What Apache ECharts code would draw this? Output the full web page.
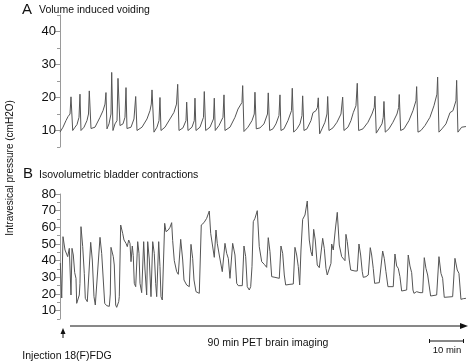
<!DOCTYPE html>
<html>
<head>
<meta charset="utf-8">
<script src="https://cdn.jsdelivr.net/npm/echarts@6/dist/echarts.min.js"></script>
<style>
  html, body { margin: 0; padding: 0; background: #fff; }
  #chart { width: 472px; height: 363px; }
</style>
</head>
<body>
<div id="chart"></div>
<script>
// A: volume induced voiding (time in min, pressure in cmH2O)
const voidingTime = [
  0, 0.86, 1.71, 2.29, 2.86, 3.14, 3.63, 4.29, 4.86, 5.43, 5.71, 6.0, 6.86, 7.71, 8.14, 8.37, 8.86,
  10.0, 11.43, 12.29, 12.86, 13.14, 13.43, 14.0, 14.57, 14.77, 15.14, 15.71, 16.29, 16.57, 17.14,
  18.0, 18.57, 18.86, 19.14, 20.29, 21.14, 21.63, 22.0, 23.43, 24.86, 25.71, 26.09, 26.29, 26.86,
  27.71, 28.29, 28.57, 28.86, 30.0, 31.43, 32.57, 33.29, 33.63, 34.0, 35.14, 36.0, 36.2, 36.57,
  37.71, 38.37, 38.57, 38.86, 40.0, 41.0, 41.23, 41.63, 42.86, 43.86, 44.09, 44.37, 45.43, 46.57,
  46.86, 47.14, 48.57, 50.0, 50.86, 52.0, 52.2, 52.57, 53.71, 54.86, 55.51, 55.71, 56.09, 57.14,
  58.29, 59.29, 59.51, 59.91, 60.86, 61.71, 62.57, 62.86, 63.14, 64.0, 65.14, 66.14, 66.37, 66.77,
  67.71, 68.57, 69.14, 69.34, 69.71, 70.57, 71.71, 72.29, 73.14, 73.57, 73.8, 74.2, 74.86, 75.71,
  76.29, 76.49, 76.86, 78.0, 79.14, 80.29, 80.77, 81.14, 82.29, 83.14, 83.8, 84.29, 84.57, 84.94,
  85.34, 86.57, 88.0, 89.14, 89.8, 90.0, 90.37, 91.14, 92.0, 92.37, 92.57, 92.94, 94.0, 95.14,
  96.29, 96.77, 96.94, 97.34, 98.29, 99.71, 100.86, 101.71, 101.91, 102.29, 103.14, 104.29,
  105.71, 106.86, 107.71, 107.91, 108.29, 109.14, 110.29, 111.43, 112.29, 113.14, 113.34, 113.71,
  114.77, 115.14, 116.0
];
const voidingPressure = [
  9.5, 11, 13, 14.2, 15, 20.2, 10, 11, 11.8, 14, 21, 10, 11, 13, 15, 22, 10.6,
  11, 14, 16, 18, 21.5, 10.5, 12, 15, 27.6, 10, 12, 13, 25.8, 11.5,
  12, 14, 23, 10.6, 11, 13.5, 20.3, 10, 11, 13.5, 16, 18, 22.3, 9.5,
  11, 13, 20, 10, 11, 13.5, 15.5, 18, 24, 10, 10.8, 13, 18.6, 10,
  11, 13, 19.8, 10, 11, 14, 21.8, 10, 11, 13.5, 19.8, 10, 11.5, 14,
  20.8, 10, 11, 14, 16.5, 18.5, 23.6, 9.7, 11, 13, 15, 21.6, 10.5, 10.8,
  12, 15, 21.4, 10, 10.5, 12, 14.5, 20.8, 10, 10.5, 13, 16, 22.8, 9.5,
  10.5, 12, 14.5, 20.5, 10, 10.5, 13, 15.4, 16, 17, 19.9, 9, 10.5, 12.5,
  15, 20.3, 10, 10.8, 12.5, 15, 20.1, 10, 11, 13, 15.4, 16, 17.5, 24.3,
  10, 10.5, 12.5, 15, 17, 20.4, 9.2, 10.5, 12, 14, 18.8, 9.5, 10.5, 12.5,
  15, 17, 20.9, 10, 10.5, 13, 16, 19, 23.3, 9.5, 10, 11.5,
  14, 17.5, 21, 26.2, 9.5, 10.5, 12, 15.4, 16, 19, 25.2, 9.5,
  11, 10.8, 11.2
];

// B: isovolumetric bladder contractions
const isoTime = [
  0.09, 0.49, 0.86, 1.43, 1.91, 2.2, 2.66, 2.94, 3.14, 3.43, 3.8, 4.2, 4.57, 4.77, 5.51, 5.71,
  6.0, 6.49, 6.94, 7.23, 7.8, 8.37, 8.77, 9.23, 9.71, 10.09, 10.49, 11.43, 11.91, 12.37, 12.77,
  13.34, 14.09, 14.37, 14.57, 15.23, 15.51, 15.91, 16.2, 16.77, 16.94, 17.34, 17.91, 18.29, 18.86,
  19.23, 19.63, 20.0, 20.29, 20.66, 20.94, 21.23, 21.63, 21.91, 22.2, 22.57, 22.86, 23.34, 23.63,
  23.91, 24.29, 24.77, 25.06, 25.51, 26.0, 26.49, 26.94, 27.34, 27.63, 28.2, 28.57, 28.86, 29.23,
  29.91, 30.29, 30.94, 31.43, 31.91, 32.2, 32.66, 33.34, 33.8, 34.09, 34.49, 35.06, 35.43, 36.2,
  36.94, 37.43, 37.91, 38.29, 38.86, 39.8, 40.37, 41.14, 41.91, 42.66, 43.06, 43.51, 44.09, 44.57,
  44.94, 45.51, 45.91, 46.37, 46.86, 47.14, 47.63, 48.09, 48.57, 49.06, 49.34, 50.0, 50.49, 50.94,
  52.09, 52.57, 53.06, 53.51, 54.09, 54.49, 54.86, 55.23, 55.71, 56.37, 56.94, 57.63, 58.37, 59.06,
  59.51, 60.0, 60.49, 61.43, 62.66, 63.14, 63.63, 64.09, 64.49, 65.71, 66.66, 67.14, 67.63, 68.09,
  68.49, 68.86, 69.34, 70.0, 70.66, 71.23, 71.71, 72.09, 72.49, 72.94, 73.51, 74.09, 74.49, 75.06,
  75.51, 76.0, 76.37, 76.94, 77.43, 77.63, 78.09, 78.66, 79.23, 79.8, 80.49, 81.43, 81.71, 82.09,
  82.66, 83.06, 84.29, 84.94, 85.43, 85.91, 86.37, 86.66, 87.43, 88.09, 88.66, 89.06, 89.51, 89.91,
  91.23, 91.71, 92.2, 92.66, 93.14, 93.71, 95.23, 95.71, 96.2, 96.66, 97.14, 97.63, 99.06, 99.51,
  100.0, 100.49, 100.86, 101.14, 101.91, 102.86, 103.63, 104.09, 104.57, 105.06, 105.51, 105.91,
  107.63, 108.29, 108.86, 109.34, 109.8, 112.2, 112.86, 113.51, 114.0, 114.57, 115.23, 116.0
];
const isoPressure = [
  38.6, 17.6, 54.4, 46.4, 47.4, 42.4, 47.4, 48, 19.4, 47.4, 43.4, 32.8, 29.4, 14.4, 19.4, 26.4,
  60.4, 48.4, 32.4, 17.4, 15.4, 14.4, 51, 40.4, 18.4, 13.4, 12.4, 54, 44.4, 28.4, 14.4,
  13, 12.6, 20, 48, 42.4, 37.4, 13.4, 12, 15.4, 18.4, 61.4, 56.4, 52.4, 50.4,
  48.4, 52.4, 50.4, 39.4, 48.8, 43, 26.4, 24.4, 24.4, 51.4, 44.4, 26.4, 20.8, 20.4,
  51.4, 34.4, 19.4, 51.4, 41, 18.4, 51.4, 44.4, 26.4, 18.4, 51.4, 36.4, 18.4, 16.4,
  62.4, 57.4, 58.4, 60, 62.8, 52, 40, 33.4, 31.8, 31.4, 52.8, 40.4, 28.4, 25.4,
  24.4, 49.8, 41.4, 28.4, 21.4, 20.4, 61.4, 62.8, 65.4, 69.8, 56.4, 55.4, 42, 58.4,
  50.4, 43.4, 43.4, 33.4, 33.4, 50.4, 44.4, 41.4, 29.4, 28.4, 50.4, 43.4, 26.4, 25,
  25, 48.8, 42.4, 24.4, 22.4, 24.4, 36.4, 63.4, 65.4, 70, 48.4, 39.4, 37.8, 36,
  53.8, 45.4, 30.4, 30, 29.4, 48.8, 44.4, 31.4, 25.4, 25.8, 26, 48, 43.4, 36.4,
  25.4, 46.4, 64.8, 67.4, 75.8, 52.4, 45.4, 42.8, 58.8, 52.4, 37.4, 35.8, 35.8, 53.4,
  47.4, 35.4, 31.4, 31.4, 38.4, 50, 46.4, 58.4, 69, 49.4, 42.4, 40, 55.8, 51.4,
  40.4, 34.4, 33.8, 33.8, 50, 43.4, 33.4, 30, 30.4, 31.4, 47.8, 43.4, 35.4, 26.4,
  26.8, 27.4, 45.8, 41.4, 33.4, 24.4, 24.4, 44, 36.8, 35.4, 30.4, 21.8, 22.4, 43.4,
  36.8, 32.8, 22.4, 20.4, 21.4, 20.8, 20.8, 41.8, 35.4, 31.4, 31.8, 18.8,
  19.4, 42.4, 32.4, 29.4, 18, 18.4, 41.4, 34.4, 32.4, 16.8, 17.2, 17.4
];

const ticksA = [10, 20, 30, 40];
const ticksB = [10, 20, 30, 40, 50, 60, 70, 80];

const TRACE = "#555";
const AXIS = "#9a9a9a";
const FONT = "Liberation Sans, Arial, sans-serif";

const pairUp = (xs, ys) => xs.map((x, i) => [x, ys[i]]);

// main axis (labelled ticks every 10) + overlay axis for the short 5-unit ticks
function yAxisPair(gridIndex, min, max, ticks) {
  return [
    {
      type: "value", gridIndex: gridIndex, position: "left", min: min, max: max, interval: 5,
      axisLine: { show: true, lineStyle: { color: AXIS, width: 1 } },
      axisTick: { show: true, length: 5, customValues: ticks, lineStyle: { color: AXIS } },
      axisLabel: { show: true, customValues: ticks, margin: 4, color: "#111", fontSize: 13, fontFamily: FONT },
      splitLine: { show: false }
    },
    {
      type: "value", gridIndex: gridIndex, position: "left", offset: 0, min: min, max: max, interval: 5,
      axisLine: { show: false },
      axisTick: { show: true, length: 3, lineStyle: { color: AXIS } },
      axisLabel: { show: false },
      splitLine: { show: false }
    }
  ];
}

const chart = echarts.init(document.getElementById("chart"), null, { renderer: "canvas" });

chart.setOption({
  animation: false,
  backgroundColor: "#fff",
  grid: [
    { left: 60, width: 407, top: 15, height: 132 },
    { left: 60, width: 407, top: 194, height: 125 }
  ],
  xAxis: [
    { type: "value", gridIndex: 0, min: 0, max: 116.3, show: false },
    { type: "value", gridIndex: 1, min: 0, max: 116.3, show: false }
  ],
  yAxis: [].concat(yAxisPair(0, 5, 45, ticksA), yAxisPair(1, 5, 80, ticksB)),
  series: [
    {
      type: "line", xAxisIndex: 0, yAxisIndex: 0, showSymbol: false,
      lineStyle: { color: TRACE, width: 1 },
      data: pairUp(voidingTime, voidingPressure)
    },
    {
      type: "line", xAxisIndex: 1, yAxisIndex: 2, showSymbol: false,
      lineStyle: { color: TRACE, width: 1 },
      data: pairUp(isoTime, isoPressure)
    }
  ],
  graphic: [
    { type: "text", x: 22, y: 10, style: { text: "A", font: "15px " + FONT, fill: "#111", textVerticalAlign: "middle" } },
    { type: "text", x: 39, y: 10, style: { text: "Volume induced voiding", font: "10.5px " + FONT, fill: "#111", textVerticalAlign: "middle" } },
    { type: "text", x: 23, y: 174, style: { text: "B", font: "15px " + FONT, fill: "#111", textVerticalAlign: "middle" } },
    { type: "text", x: 39, y: 175, style: { text: "Isovolumetric bladder contractions", font: "10.5px " + FONT, fill: "#111", textVerticalAlign: "middle" } },
    {
      type: "text", x: 10, y: 168, rotation: Math.PI / 2,
      style: { text: "Intravesical pressure (cmH2O)", font: "10px " + FONT, fill: "#111", textAlign: "center", textVerticalAlign: "middle" }
    },
    // PET imaging arrow
    { type: "line", shape: { x1: 70, y1: 326, x2: 462, y2: 326 }, style: { stroke: "#111", lineWidth: 1 } },
    { type: "polygon", shape: { points: [[468, 326], [460, 323], [460, 329]] }, style: { fill: "#111" } },
    { type: "text", x: 268, y: 343, style: { text: "90 min PET brain imaging", font: "10.5px " + FONT, fill: "#111", textAlign: "center", textVerticalAlign: "middle" } },
    // injection arrow
    { type: "line", shape: { x1: 63, y1: 338, x2: 63, y2: 332 }, style: { stroke: "#111", lineWidth: 1 } },
    { type: "polygon", shape: { points: [[63, 328], [60.5, 334], [65.5, 334]] }, style: { fill: "#111" } },
    { type: "text", x: 67, y: 356, style: { text: "Injection 18(F)FDG", font: "10.5px " + FONT, fill: "#111", textAlign: "center", textVerticalAlign: "middle" } },
    // scale bar
    { type: "line", shape: { x1: 429, y1: 341, x2: 464, y2: 341 }, style: { stroke: "#111", lineWidth: 1 } },
    { type: "line", shape: { x1: 429.5, y1: 339, x2: 429.5, y2: 343 }, style: { stroke: "#111", lineWidth: 1 } },
    { type: "line", shape: { x1: 463.5, y1: 339, x2: 463.5, y2: 343 }, style: { stroke: "#111", lineWidth: 1 } },
    { type: "text", x: 447, y: 350, style: { text: "10 min", font: "9.5px " + FONT, fill: "#111", textAlign: "center", textVerticalAlign: "middle" } }
  ]
});
</script>
</body>
</html>
